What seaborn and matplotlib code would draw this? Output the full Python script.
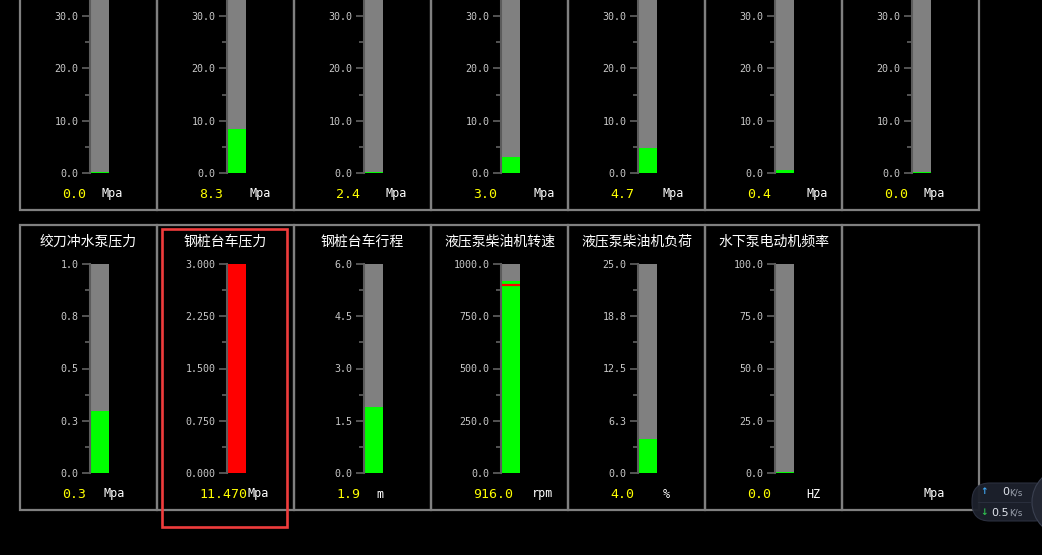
import matplotlib
matplotlib.use("Agg")
import matplotlib.pyplot as plt
import seaborn as sns
import numpy as np
from matplotlib.patches import Rectangle, FancyBboxPatch, Circle

# ---------------- data ----------------
top_max = [40.0, 40.0, 40.0, 40.0, 40.0, 40.0, 40.0]
top_tick_labels = ["0.0", "10.0", "20.0", "30.0", "40.0"]
top_values = [0.0, 8.3, 0.0, 2.9, 4.6, 0.4, 0.0]
top_value_labels = ["0.0", "8.3", "2.4", "3.0", "4.7", "0.4", "0.0"]
top_units = ["Mpa", "Mpa", "Mpa", "Mpa", "Mpa", "Mpa", "Mpa"]

bottom_titles = ["绞刀冲水泵压力", "钢桩台车压力", "钢桩台车行程", "液压泵柴油机转速",
                 "液压泵柴油机负荷", "水下泵电动机频率", ""]
bottom_max = [1.0, 3.0, 6.0, 1000.0, 25.0, 100.0]
bottom_tick_labels = [
    ["0.0", "0.3", "0.5", "0.8", "1.0"],
    ["0.000", "0.750", "1.500", "2.250", "3.000"],
    ["0.0", "1.5", "3.0", "4.5", "6.0"],
    ["0.0", "250.0", "500.0", "750.0", "1000.0"],
    ["0.0", "6.3", "12.5", "18.8", "25.0"],
    ["0.0", "25.0", "50.0", "75.0", "100.0"],
]
bottom_values = [0.29, 11.47, 1.88, 916.0, 3.95, 0.0]
bottom_value_labels = ["0.3", "11.470", "1.9", "916.0", "4.0", "0.0", ""]
bottom_units = ["Mpa", "Mpa", "m", "rpm", "%", "HZ", "Mpa"]
rpm_setpoint = 900.0
net_up = "0"
net_down = "0.5"

# ---------------- layout / style ----------------
W, H = 1042, 555
COL0, PITCH = 20, 137
ROW_Y0 = [-75, 225]
ROW_Y1 = [210, 509.5]
ZERO_Y = [173, 473]
SCALE_H = 209
AX_DX, AX_W = 69.5, 19.0
VAL_DX = 42
UNIT_DX = [[82, 92, 92, 102, 94.7, 101.7, 81.3],
           [83, 90, 82.7, 101, 94.7, 101.7, 81]]
GREEN, RED, GRAY = "#00ff00", "#ff0000", "#808080"

plt.rcParams["font.family"] = ["Noto Sans CJK SC", "DejaVu Sans"]
MONO = ["DejaVu Sans Mono", "DejaVu Sans"]

fig = plt.figure(figsize=(W / 100, H / 100), dpi=100, facecolor="black")
bg = fig.add_axes([0, 0, 1, 1])
bg.set_xlim(0, W)
bg.set_ylim(H, 0)
bg.axis("off")
bg.set_facecolor("black")

# panel borders
for r in range(2):
    for c in range(7):
        bg.add_patch(Rectangle((COL0 + PITCH * c, ROW_Y0[r]), PITCH, ROW_Y1[r] - ROW_Y0[r],
                               fill=False, ec=GRAY, lw=1.6, zorder=1))


def gauge(px_left, zero_y, vmax, labels, value, marker=None):
    ax = fig.add_axes([px_left / W, 1 - zero_y / H, AX_W / W, SCALE_H / H])
    ax.set_facecolor(GRAY)
    color = RED if value > vmax else GREEN
    sns.barplot(x=[0], y=[value], ax=ax, color=color, width=1, saturation=1,
                edgecolor=color, linewidth=1.4)
    if marker is not None:
        ax.axhline(marker, color=RED, lw=1.6)
    ax.set_xlim(-0.5, 0.5)
    ax.set_ylim(0, vmax)
    ax.set_yticks(np.linspace(0, vmax, 5))
    ax.set_yticklabels(labels)
    ax.set_yticks(np.linspace(0, vmax, 9), minor=True)
    ax.tick_params(axis="y", which="major", length=6, width=1.1, color="#6a6a6a",
                   pad=1.8, labelsize=7.2, labelcolor="#c8c8c8")
    ax.tick_params(axis="y", which="minor", length=3.6, width=1.1, color="#6a6a6a")
    for t in ax.get_yticklabels():
        t.set_family(MONO)
    # labels that fall above the canvas are not shown in the screenshot
    top_px = zero_y - SCALE_H
    if top_px < 0:
        ax.get_yticklabels()[-1].set_visible(False)
    ax.xaxis.set_visible(False)
    ax.set_xlabel("")
    ax.set_ylabel("")
    for s in ["top", "right", "bottom"]:
        ax.spines[s].set_visible(False)
    ax.spines["left"].set_color("#5c5c5c")
    ax.spines["left"].set_linewidth(1.5)
    return ax


# top row
for c in range(7):
    pl = COL0 + PITCH * c
    gauge(pl + AX_DX, ZERO_Y[0], top_max[c], top_tick_labels, top_values[c])
    bg.text(pl + VAL_DX, ZERO_Y[0] + 21, top_value_labels[c], color="#ffff00",
            fontsize=9.5, family=MONO, ha="left", va="center")
    bg.text(pl + UNIT_DX[0][c], ZERO_Y[0] + 21, top_units[c], color="white",
            fontsize=8.5, family=MONO, ha="left", va="center")

# bottom row
for c in range(7):
    pl = COL0 + PITCH * c
    if c < len(bottom_max):
        gauge(pl + AX_DX, ZERO_Y[1], bottom_max[c], bottom_tick_labels[c], bottom_values[c],
              marker=rpm_setpoint if c == 3 else None)
    if bottom_titles[c]:
        bg.text(pl + PITCH / 2, 241.5, bottom_titles[c], color="white", fontsize=10,
                ha="center", va="center")
    if bottom_value_labels[c]:
        bg.text(pl + VAL_DX, ZERO_Y[1] + 21, bottom_value_labels[c], color="#ffff00",
                fontsize=9.5, family=MONO, ha="left", va="center")
    bg.text(pl + UNIT_DX[1][c], ZERO_Y[1] + 21, bottom_units[c], color="white",
            fontsize=8.5, family=MONO, ha="left", va="center")

# highlight rectangle
bg.add_patch(Rectangle((162.3, 229.3), 124.4, 297.4, fill=False, ec="#f03c3c", lw=1.9, zorder=5))

# network speed widget
bg.add_patch(FancyBboxPatch((972, 483), 80, 38, boxstyle="round,pad=0,rounding_size=18",
                            fc="#1d212c", ec="#2c3140", lw=0.8, alpha=0.97, zorder=6))
bg.plot([978, 1030], [502, 502], color="#2c3140", lw=0.6, zorder=7)
bg.add_patch(Circle((1066, 502), 34, fc="#232733", ec="#3a4050", lw=0.8, zorder=7))
bg.text(984.5, 492, "↑", color="#3fa9f5", fontsize=6.5, family=["DejaVu Sans"],
        ha="center", va="center", zorder=8, fontweight="bold")
bg.text(984.5, 512.5, "↓", color="#2fbf4f", fontsize=6.5, family=["DejaVu Sans"],
        ha="center", va="center", zorder=8, fontweight="bold")
bg.text(1009, 492.3, net_up, color="#e0e4ec", fontsize=8, family=["DejaVu Sans"],
        ha="right", va="center", zorder=8)
bg.text(1009, 512.7, net_down, color="#e0e4ec", fontsize=8, family=["DejaVu Sans"],
        ha="right", va="center", zorder=8)
bg.text(1009.5, 493, "K/s", color="#9aa0ac", fontsize=6.3, family=["DejaVu Sans"],
        ha="left", va="center", zorder=8)
bg.text(1009.5, 513.4, "K/s", color="#9aa0ac", fontsize=6.3, family=["DejaVu Sans"],
        ha="left", va="center", zorder=8)

fig.savefig("out.png", dpi=100, facecolor="black")
